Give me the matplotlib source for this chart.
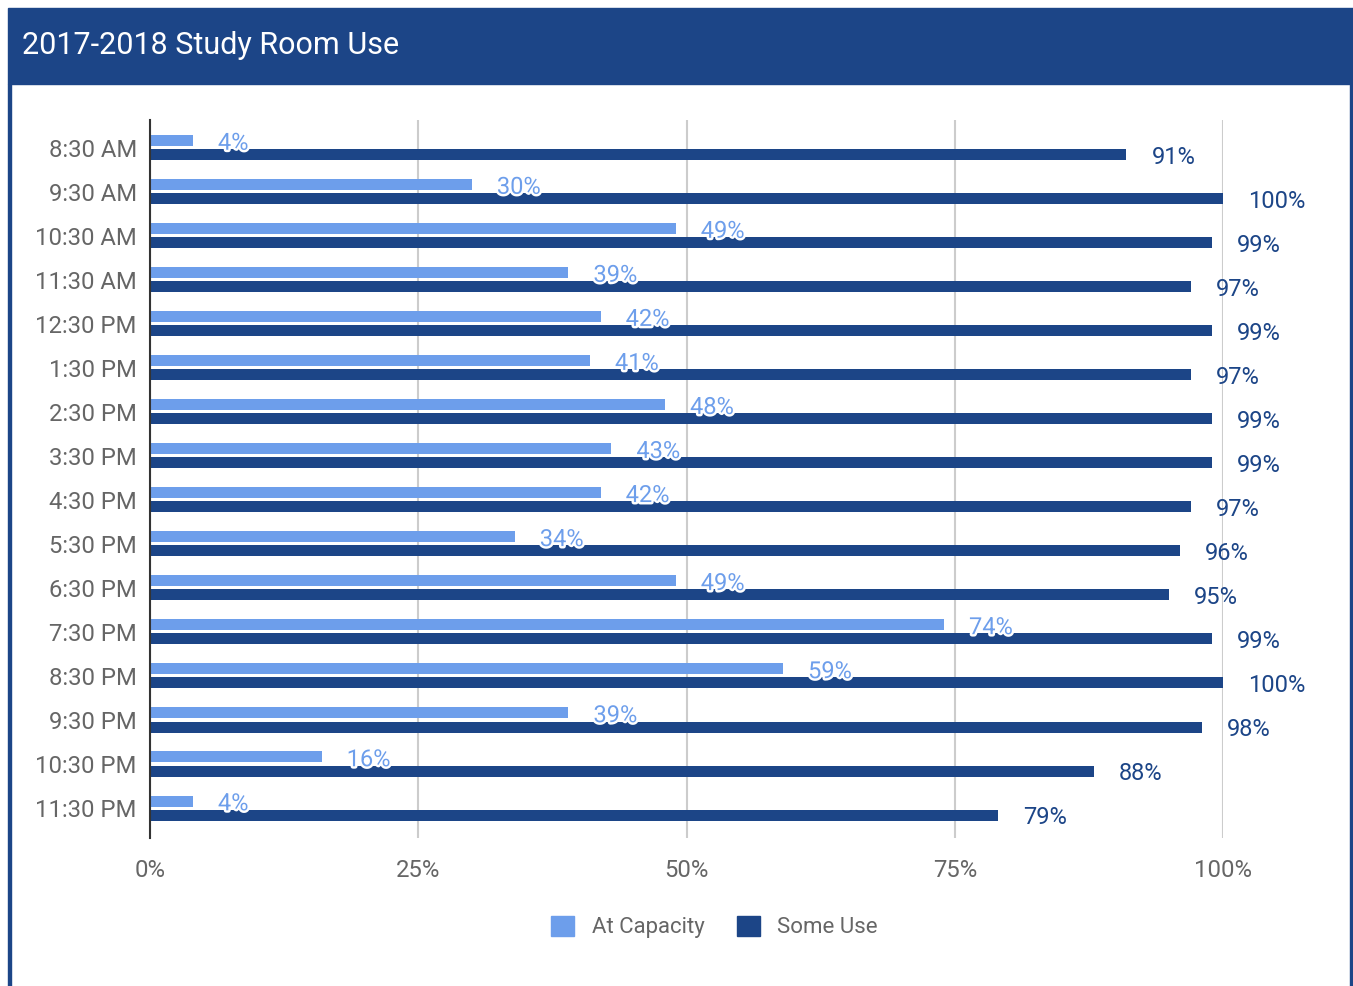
import matplotlib.pyplot as plt
import matplotlib.patheffects as pe
from matplotlib.patches import Rectangle, Patch

# study room use per time slot (%)
times = ['8:30 AM', '9:30 AM', '10:30 AM', '11:30 AM', '12:30 PM', '1:30 PM', '2:30 PM',
         '3:30 PM', '4:30 PM', '5:30 PM', '6:30 PM', '7:30 PM', '8:30 PM', '9:30 PM',
         '10:30 PM', '11:30 PM']
at_capacity = [4, 30, 49, 39, 42, 41, 48, 43, 42, 34, 49, 74, 59, 39, 16, 4]
some_use = [91, 100, 99, 97, 99, 97, 99, 99, 97, 96, 95, 99, 100, 98, 88, 79]

light = '#6d9eeb'
dark = '#1c4587'
grey = '#666666'

plt.rcParams['font.family'] = ['Roboto', 'DejaVu Sans']

fig = plt.figure(figsize=(13.53, 9.86), dpi=100)
W, H = 1353, 986

# header band and frame
fig.patches.append(Rectangle((8 / W, 1 - 84 / H), (W - 8) / W, 76 / H,
                             transform=fig.transFigure, color=dark, zorder=0))
fig.patches.append(Rectangle((8 / W, 0), 2.5 / W, 1 - 84 / H,
                             transform=fig.transFigure, color=dark, zorder=0))
fig.patches.append(Rectangle((1350 / W, 0), 2.5 / W, 1 - 84 / H,
                             transform=fig.transFigure, color=dark, zorder=0))
fig.text(22 / W, 1 - 45 / H, '2017-2018 Study Room Use', color='white',
         fontsize=22, va='center', ha='left')

ax = fig.add_axes([150 / W, 1 - 838 / H, (1223 - 150) / W, (838 - 120) / H])

idx = list(range(len(times)))
off = 0.16
h = 0.25
ax.barh([i - off for i in idx], at_capacity, height=h, color=light, zorder=3)
ax.barh([i + off for i in idx], some_use, height=h, color=dark, zorder=3)

for i in idx:
    ax.annotate(f'{at_capacity[i]}%', (at_capacity[i], i - off), xytext=(18, -2),
                textcoords='offset points', va='center', ha='left',
                fontsize=17, color=light, zorder=5,
                path_effects=[pe.withStroke(linewidth=3.5, foreground='white')])
    ax.annotate(f'{some_use[i]}%', (some_use[i], i + off), xytext=(18, -2),
                textcoords='offset points', va='center', ha='left',
                fontsize=17, color=dark, zorder=5)

ax.set_xlim(0, 100)
ax.set_ylim(15.68, -0.625)
ax.set_yticks(idx)
ax.set_yticklabels(times)
ax.set_xticks([0, 25, 50, 75, 100])
ax.set_xticklabels(['0%', '25%', '50%', '75%', '100%'])
ax.tick_params(axis='both', length=0, labelsize=17.2, labelcolor=grey)
ax.tick_params(axis='y', pad=9.5)
ax.tick_params(axis='x', pad=15)
ax.grid(axis='x', color='#cccccc', linewidth=1.5, zorder=0)
for s in ['top', 'right', 'bottom']:
    ax.spines[s].set_visible(False)
ax.spines['left'].set_color('#333333')
ax.spines['left'].set_linewidth(1.5)
ax.spines['left'].set_zorder(4)

handles = [Patch(color=light, label='At Capacity'), Patch(color=dark, label='Some Use')]
leg = fig.legend(handles=handles, loc='center', bbox_to_anchor=(0.528, 1 - 927 / H),
                 ncol=2, frameon=False, fontsize=16, handlelength=1.04, handleheight=1.04,
                 columnspacing=1.45, handletextpad=0.8)
for t in leg.get_texts():
    t.set_color(grey)

fig.savefig('out.png', dpi=100)
